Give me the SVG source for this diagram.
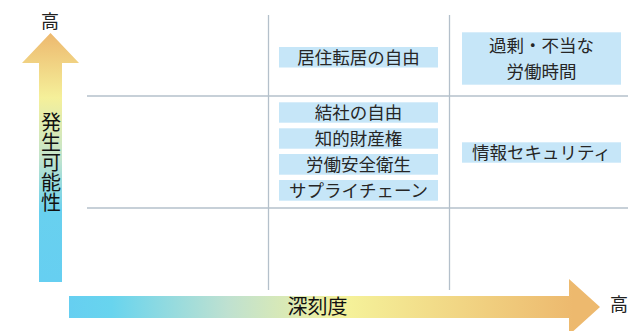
<svg xmlns="http://www.w3.org/2000/svg" width="628" height="331" viewBox="0 0 628 331">
<defs>
<linearGradient id="gv" x1="0" y1="282" x2="0" y2="33" gradientUnits="userSpaceOnUse">
<stop offset="0" stop-color="#66CFF1"/>
<stop offset="0.28" stop-color="#68D0EF"/>
<stop offset="0.5" stop-color="#C3E4CC"/>
<stop offset="0.74" stop-color="#F5F09A"/>
<stop offset="1" stop-color="#EDB86E"/>
</linearGradient>
<linearGradient id="gh" x1="69" y1="0" x2="600" y2="0" gradientUnits="userSpaceOnUse">
<stop offset="0" stop-color="#66CFF1"/>
<stop offset="0.08" stop-color="#68D4EE"/>
<stop offset="0.3" stop-color="#BFE1D0"/>
<stop offset="0.52" stop-color="#F5F29A"/>
<stop offset="0.95" stop-color="#EDB96E"/>
</linearGradient>
<style>
.grid{stroke:#B4C0CB;stroke-width:1.3;fill:none}
.box{fill:#C6E6F8}
.t{font-family:"Noto Sans CJK JP","Noto Sans",sans-serif;font-size:17.5px;fill:#262626;text-anchor:middle}
.ax{font-family:"Noto Sans CJK JP","Noto Sans",sans-serif;font-size:20px;fill:#111;text-anchor:middle}
.vt{font-family:"Noto Sans CJK JP","Noto Sans",sans-serif;font-size:20px;fill:#111;writing-mode:vertical-rl;text-anchor:start}
.hi{font-family:"Noto Sans CJK JP","Noto Sans",sans-serif;font-size:18px;fill:#222;text-anchor:middle}
</style>
</defs>
<g id="grid">
<line class="grid" x1="87" y1="96" x2="628" y2="96"/>
<line class="grid" x1="87" y1="208" x2="628" y2="208"/>
<line class="grid" x1="268.5" y1="15" x2="268.5" y2="290"/>
<line class="grid" x1="449.5" y1="15" x2="449.5" y2="290"/>
</g>
<g id="axis-y">
<polygon points="39,282 39,63 22,63 50.5,33 79,63 62,63 62,282" fill="url(#gv)"/>
<text class="hi" x="50" y="28">高</text>
<text class="vt" x="51" y="112">発生可能性</text>
</g>
<g id="axis-x">
<polygon points="69,296 569,296 569,279 600,307 569,335 569,318 69,318" fill="url(#gh)"/>
<text class="ax" x="317.5" y="314">深刻度</text>
<text class="hi" x="619" y="311">高</text>
</g>
<g id="n1"><rect class="box" x="279" y="47" width="159" height="20.5"/><text class="t" x="358.5" y="63.5">居住転居の自由</text></g>
<g id="n2"><rect class="box" x="462" y="32.3" width="159" height="52.4"/><text class="t" x="541.5" y="51.5">過剰・不当な</text><text class="t" x="541.5" y="77.5">労働時間</text></g>
<g id="n3"><rect class="box" x="279" y="102.3" width="159" height="20.4"/><text class="t" x="358.5" y="118.7">結社の自由</text></g>
<g id="n4"><rect class="box" x="279" y="128.3" width="159" height="20.4"/><text class="t" x="358.5" y="144.7">知的財産権</text></g>
<g id="n5"><rect class="box" x="279" y="154" width="159" height="20.7"/><text class="t" x="358.5" y="170.5">労働安全衛生</text></g>
<g id="n6"><rect class="box" x="279" y="180" width="159" height="20.7"/><text class="t" x="358.5" y="196.5">サプライチェーン</text></g>
<g id="n7"><rect class="box" x="462" y="142.3" width="159" height="20.4"/><text class="t" x="541.5" y="158.7">情報セキュリティ</text></g>
</svg>
